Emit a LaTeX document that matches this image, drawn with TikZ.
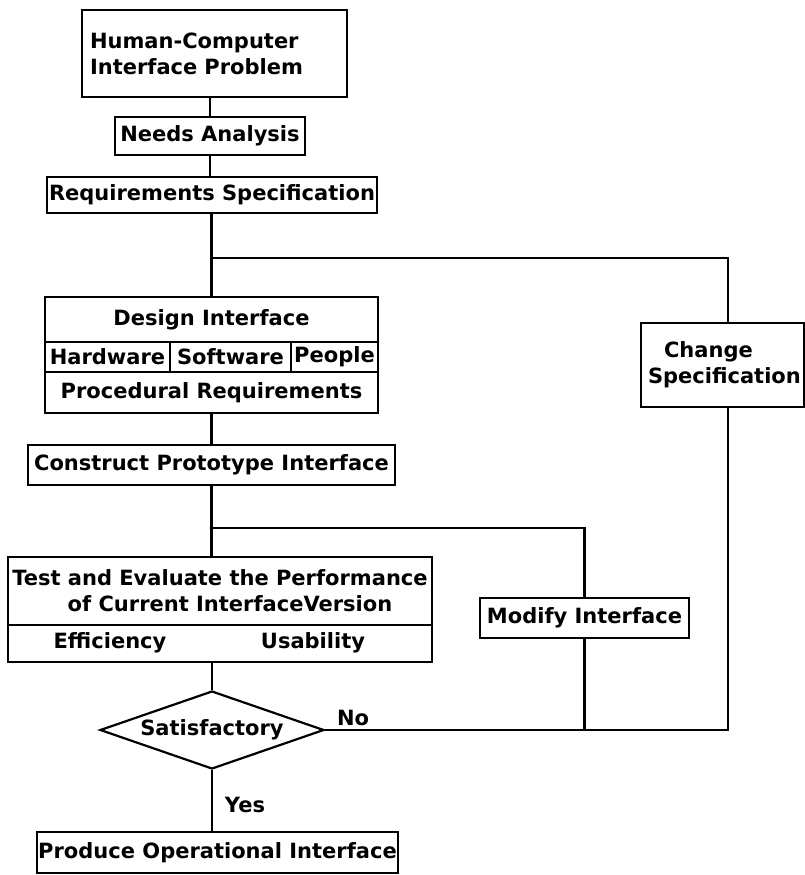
\documentclass[tikz,border=0pt]{standalone}
\usepackage{fontspec}
\setmainfont{DejaVu Sans}
\usetikzlibrary{shapes.geometric}
\begin{document}
\begin{tikzpicture}[x=1pt,y=-1pt, line width=2.2pt,
  box/.style={draw, rectangle, inner sep=0pt, font=\fontsize{21}{26}\selectfont\bfseries},
  lbl/.style={font=\fontsize{21}{26}\selectfont\bfseries, inner sep=0pt}]
\useasboundingbox (0,0) rectangle (805,875);
% main column
\node[box, minimum width=265, minimum height=87, text width=249, align=left] (hci) at (214.5,53.5) {Human-Computer\\Interface Problem};
\node[box, minimum width=190, minimum height=38] (needs) at (210,136) {Needs Analysis};
\node[box, minimum width=330, minimum height=36] (req) at (212,195) {Requirements Specification};
% design interface compound box
\node[box, minimum width=333, minimum height=45] (dtitle) at (211.5,319.5) {Design Interface};
\node[box, minimum width=125, minimum height=30] (hw) at (107.5,357) {Hardware};
\node[box, minimum width=121, minimum height=30] (sw) at (230.5,357) {Software};
\node[box, minimum width=87, minimum height=30] (pp) at (334.5,357) {People};
\node[box, minimum width=333, minimum height=41] (proc) at (211.5,392.5) {Procedural Requirements};
\node[box, minimum width=367, minimum height=40] (cons) at (211.5,465) {Construct Prototype Interface};
% test box
\node[box, minimum width=424, minimum height=68, align=center] (ttop) at (220,591) {Test and Evaluate the Performance\\\hspace*{20pt}of Current InterfaceVersion};
\node[box, minimum width=424, minimum height=37] (tbot) at (220,643.5) {};
\node[lbl] (eff) at (110,643) {Efficiency};
\node[lbl] (usa) at (313,643) {Usability};
% decision
\node[draw, diamond, shape aspect=2.87, minimum width=224, minimum height=78, inner sep=0pt, font=\fontsize{21}{26}\selectfont\bfseries] (sat) at (212,730) {Satisfactory};
\node[box, minimum width=361, minimum height=41] (prod) at (217.5,852.5) {Produce Operational Interface};
% side boxes
\node[box, minimum width=163, minimum height=84, text width=149, align=left] (change) at (722.5,365) {\hspace*{16pt}Change\\Specification};
\node[box, minimum width=209, minimum height=40] (modify) at (584.5,618) {Modify Interface};
% labels
\node[lbl] (no) at (353,718) {No};
\node[lbl] (yes) at (245,805) {Yes};
% helper coordinates
\coordinate (y258) at (0,258);
\coordinate (y528) at (0,528);
\coordinate (rx) at (728,0);
\coordinate (j1) at (dtitle.north |- y258);
\coordinate (j2) at (cons.south |- y528);
% connectors
\draw (hci.south -| needs.north) -- (needs.north);
\draw (needs.south) -- (needs.south |- req.north);
\draw (req.south -| dtitle.north) -- (dtitle.north);
\draw (proc.south) -- (proc.south |- cons.north);
\draw (cons.south) -- (cons.south |- ttop.north);
\draw (tbot.south -| sat.north) -- (sat.north);
\draw (sat.south) -- (sat.south |- prod.north);
\draw (j1) -| (rx |- change.north);
\draw (rx |- change.south) |- (sat.east);
\draw (j2) -| (modify.north);
\draw (modify.south) -- (modify.south |- sat.east);
\end{tikzpicture}
\end{document}
